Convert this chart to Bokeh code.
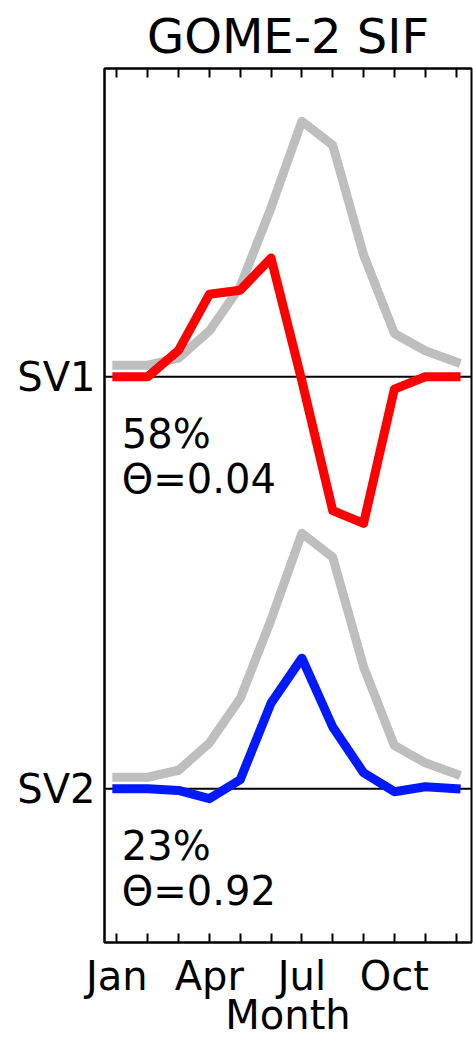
from bokeh.plotting import figure
from bokeh.models import FixedTicker, LinearAxis, Span, Label, Range1d
from bokeh.embed import file_html
from bokeh.resources import INLINE

# Monthly values (offset units: each row's zero line is its baseline)
months = [1, 2, 3, 4, 5, 6, 7, 8, 9, 10, 11, 12]
labelled_months = [1, 4, 7, 10]
month_labels = ["Jan", "Apr", "Jul", "Oct"]
mean_sif = [0.028, 0.028, 0.045, 0.111, 0.219, 0.41, 0.62, 0.562, 0.296, 0.105, 0.063, 0.036]
sv1 = [0.0, 0.0, 0.064, 0.20, 0.21, 0.288, -0.01, -0.325, -0.356, -0.03, 0.0, 0.0]
sv2 = [0.0, 0.0, -0.004, -0.024, 0.022, 0.208, 0.317, 0.15, 0.039, -0.007, 0.005, 0.0]
row_names = ["SV1", "SV2"]
variance = ["58%", "23%"]
theta = ["\u0398=0.04", "\u0398=0.92"]

FONT = "DejaVu Sans"
offsets = [0.0, -1.0]
other_months = [m for m in months if m not in labelled_months]

p = figure(width=473, height=1040,
           x_range=Range1d(0.6, 12.5), y_range=Range1d(-1.373, 0.748),
           output_backend="svg", toolbar_location=None,
           min_border_left=104, min_border_right=2,
           min_border_top=0, min_border_bottom=0)

p.title.text = "GOME-2 SIF"
p.title.text_font = FONT
p.title.text_font_size = "48px"
p.title.text_font_style = "normal"
p.title.text_color = "black"
p.title.align = "center"

p.xgrid.visible = False
p.ygrid.visible = False
p.outline_line_color = "black"
p.outline_line_width = 2


def style_month_ticks(ax):
    ax.major_tick_in = 9
    ax.major_tick_out = 0
    ax.minor_tick_in = 9
    ax.minor_tick_out = 0
    ax.major_tick_line_width = 2
    ax.minor_tick_line_width = 2
    ax.major_tick_line_color = "black"
    ax.minor_tick_line_color = "black"
    ax.axis_line_width = 2
    ax.axis_line_color = "black"


# bottom axis: ticks every month, labels every quarter
xa = p.xaxis[0]
xa.ticker = FixedTicker(ticks=labelled_months, minor_ticks=other_months)
xa.major_label_overrides = {m: lab for m, lab in zip(labelled_months, month_labels)}
style_month_ticks(xa)
xa.major_label_text_font = FONT
xa.major_label_text_font_size = "40px"
xa.major_label_text_color = "black"
xa.major_label_standoff = 10
xa.axis_label = "Month"
xa.axis_label_text_font = FONT
xa.axis_label_text_font_size = "40px"
xa.axis_label_text_font_style = "normal"
xa.axis_label_text_color = "black"
xa.axis_label_standoff = -10

# top axis: tick marks only
top = LinearAxis(ticker=FixedTicker(ticks=[], minor_ticks=months))
style_month_ticks(top)
p.add_layout(top, "above")

# left axis: row names at each baseline
ya = p.yaxis[0]
ya.ticker = FixedTicker(ticks=offsets, minor_ticks=[])
ya.major_label_overrides = {o: n for o, n in zip(offsets, row_names)}
ya.major_tick_in = 0
ya.major_tick_out = 0
ya.minor_tick_line_color = None
ya.axis_line_width = 2
ya.axis_line_color = "black"
ya.major_label_text_font = FONT
ya.major_label_text_font_size = "40px"
ya.major_label_text_color = "black"
ya.major_label_standoff = 9

for off in offsets:
    p.add_layout(Span(location=off, dimension="width", line_color="black",
                      line_width=2, level="underlay"))

colors = ["red", "#0019ff"]
for off, sv, col, var, th in zip(offsets, [sv1, sv2], colors, variance, theta):
    p.line(months, [v + off for v in mean_sif], line_color="#bebebe",
           line_width=9, line_cap="square", line_join="round")
    p.line(months, [v + off for v in sv], line_color=col,
           line_width=9, line_cap="square", line_join="round")
    p.add_layout(Label(x=months[0], y=off - 0.138, x_offset=5, text=var,
                       text_font=FONT, text_font_size="40px", text_color="black",
                       text_baseline="alphabetic"))
    p.add_layout(Label(x=months[0], y=off - 0.247, x_offset=5, text=th,
                       text_font=FONT, text_font_size="40px", text_color="black",
                       text_baseline="alphabetic"))

open("out.html", "w").write(file_html(p, INLINE))
